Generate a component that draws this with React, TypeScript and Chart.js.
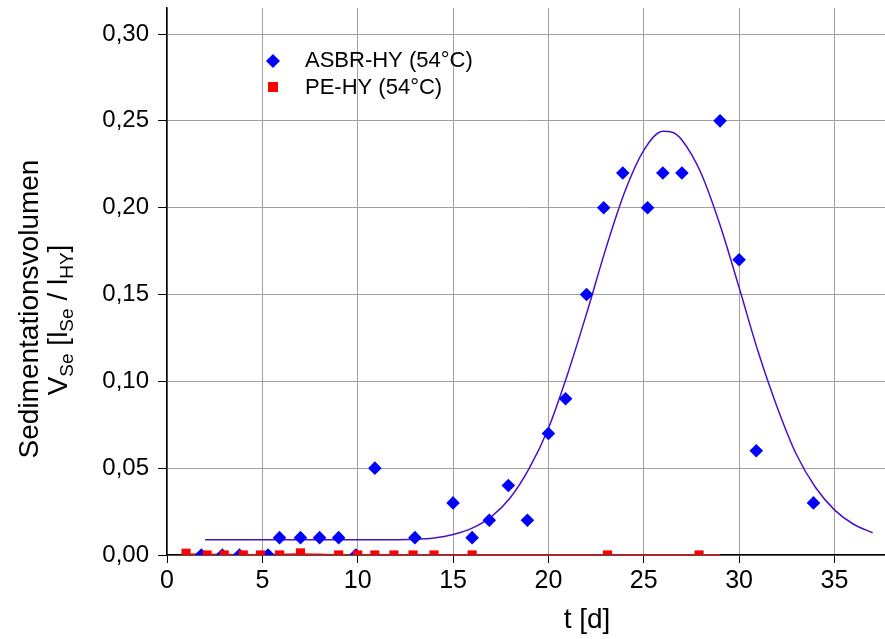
import React, { useEffect, useRef } from "react";
import { Chart, registerables } from "chart.js";

Chart.register(...registerables);

// ASBR-HY (54°C) measurements
const asbrT = [1.8, 2.9, 3.8, 5.3, 5.9, 7.0, 8.0, 9.0, 9.9, 10.9, 13.0, 15.0, 16.0, 16.9, 17.9, 18.9, 20.0, 20.9, 22.0, 22.9, 23.9, 25.2, 26.0, 27.0, 29.0, 30.0, 30.9, 33.9];
const asbrV = [0, 0, 0, 0, 0.01, 0.01, 0.01, 0.01, 0, 0.05, 0.01, 0.03, 0.01, 0.02, 0.04, 0.02, 0.07, 0.09, 0.15, 0.2, 0.22, 0.2, 0.22, 0.22, 0.25, 0.17, 0.06, 0.03];

// PE-HY (54°C) measurements
const peT = [1.0, 2.1, 3.0, 4.0, 4.9, 5.9, 7.0, 9.0, 10.0, 10.9, 11.9, 12.9, 14.0, 16.0, 23.1, 27.9];
const peV = [0.001, 0, 0, 0, 0, 0, 0.0012, 0, 0, 0, 0, 0, 0, 0, 0, 0];

// fitted curve for ASBR-HY
const asbrFitT = [2, 4, 6, 8, 10, 12, 13, 14, 15, 16, 17, 18, 19, 20, 21, 22, 23, 24, 25, 26, 26.5, 27, 28, 29, 30, 31, 32, 33, 34, 35, 36, 37];
const asbrFitV = [0.0088, 0.0088, 0.0088, 0.0088, 0.0088, 0.0088, 0.009, 0.0098, 0.0118, 0.0155, 0.022, 0.033, 0.05, 0.073, 0.104, 0.139, 0.176, 0.209, 0.233, 0.244, 0.2435, 0.239, 0.22, 0.19, 0.154, 0.117, 0.085, 0.058, 0.039, 0.026, 0.0177, 0.0128];

// fitted curve for PE-HY
const peFitT = [1, 3, 5, 7, 9, 12, 20, 29];
const peFitV = [0.0004, 0.0001, 0, 0.0005, 0, 0, 0, 0];

// axis ticks
const xTicks = [0, 5, 10, 15, 20, 25, 30, 35];
const yTicks = [0, 0.05, 0.1, 0.15, 0.2, 0.25, 0.3];

const FONT = "'Liberation Sans', Arial, Helvetica, sans-serif";
const FIT_BLUE = "#4a10c8";

const toXY = (xs: number[], ys: number[]) => xs.map((x, i) => ({ x, y: ys[i] }));

const annotations = {
  id: "annotations",
  afterDraw(chart: any) {
    const ctx = chart.ctx as CanvasRenderingContext2D;
    ctx.save();
    ctx.fillStyle = "#000";
    const big = `28px ${FONT}`;
    const small = `19px ${FONT}`;
    // x title
    ctx.font = big;
    ctx.textAlign = "center";
    ctx.textBaseline = "alphabetic";
    ctx.fillText("t [d]", 587, 628);

    // y title line 1
    ctx.save();
    ctx.translate(38, 309);
    ctx.rotate(-Math.PI / 2);
    ctx.font = big;
    ctx.textAlign = "center";
    ctx.fillText("Sedimentationsvolumen", 0, 0);
    ctx.restore();

    // y title line 2 with subscripts
    const segs: [string, boolean][] = [
      ["V", false],
      ["Se", true],
      [" [l", false],
      ["Se", true],
      [" / l", false],
      ["HY", true],
      ["]", false],
    ];
    let total = 0;
    for (const [s, sub] of segs) {
      ctx.font = sub ? small : big;
      total += ctx.measureText(s).width;
    }
    ctx.save();
    ctx.translate(67, 320);
    ctx.rotate(-Math.PI / 2);
    ctx.textAlign = "left";
    let cx = -total / 2;
    for (const [s, sub] of segs) {
      ctx.font = sub ? small : big;
      ctx.fillText(s, cx, sub ? 6 : 0);
      cx += ctx.measureText(s).width;
    }
    ctx.restore();

    // legend
    ctx.fillStyle = "#0000ff";
    ctx.beginPath();
    ctx.moveTo(273 - 7, 61);
    ctx.lineTo(273, 61 - 7);
    ctx.lineTo(273 + 7, 61);
    ctx.lineTo(273, 61 + 7);
    ctx.closePath();
    ctx.fill();
    ctx.fillStyle = "#ff0000";
    ctx.fillRect(268, 82, 10, 10);
    ctx.fillStyle = "#000";
    ctx.font = `22px ${FONT}`;
    ctx.textAlign = "left";
    ctx.textBaseline = "middle";
    ctx.fillText("ASBR-HY (54°C)", 305, 61);
    ctx.fillText("PE-HY (54°C)", 305, 88);
    ctx.restore();
  },
};

export default function App() {
  const ref = useRef<HTMLCanvasElement | null>(null);
  useEffect(() => {
    if (!ref.current) return;
    const chart = new Chart(ref.current, {
      type: "scatter",
      data: {
        datasets: [
          {
            label: "PE-HY (54°C)",
            data: toXY(peT, peV),
            pointStyle: "rect",
            pointRadius: 6.5,
            backgroundColor: "#ff0000",
            borderColor: "#ff0000",
            borderWidth: 0,
            showLine: false,
          },
          {
            label: "ASBR-HY (54°C)",
            data: toXY(asbrT, asbrV),
            pointStyle: "rectRot",
            pointRadius: 6.8,
            backgroundColor: "#0000ff",
            borderColor: "#0000ff",
            borderWidth: 0,
            showLine: false,
          },
          {
            label: "PE fit",
            data: toXY(peFitT, peFitV),
            showLine: true,
            pointRadius: 0,
            borderColor: "#ff0000",
            borderWidth: 2,
            cubicInterpolationMode: "monotone",
          },
          {
            label: "ASBR fit",
            data: toXY(asbrFitT, asbrFitV),
            showLine: true,
            pointRadius: 0,
            borderColor: FIT_BLUE,
            borderWidth: 1.5,
            cubicInterpolationMode: "monotone",
          },
        ],
      },
      options: {
        animation: false,
        responsive: false,
        devicePixelRatio: 1,
        layout: { autoPadding: false, padding: { top: 8, left: 0, right: 0, bottom: 0 } },
        plugins: { legend: { display: false }, tooltip: { enabled: false } },
        scales: {
          x: {
            type: "linear",
            min: 0,
            max: 37.65,
            afterFit: (s: any) => {
              s.height = 84;
              s.paddingLeft = 0;
              s.paddingRight = 0;
            },
            afterBuildTicks: (s: any) => {
              s.ticks = xTicks.map((v) => ({ value: v }));
            },
            ticks: {
              includeBounds: false,
              font: { family: FONT, size: 25 },
              color: "#000",
              padding: 3,
              maxRotation: 0,
              callback: (v: any) => String(v),
            },
            grid: { color: "#a0a0a0", lineWidth: 1, tickColor: "#000", tickLength: 8 },
            border: { color: "#000", width: 1.5 },
          },
          y: {
            type: "linear",
            min: 0,
            max: 0.315,
            afterFit: (s: any) => {
              s.width = 167;
              s.paddingTop = 0;
              s.paddingBottom = 0;
            },
            afterBuildTicks: (s: any) => {
              s.ticks = yTicks.map((v) => ({ value: v }));
            },
            ticks: {
              includeBounds: false,
              font: { family: FONT, size: 24 },
              color: "#000",
              padding: 9,
              callback: (v: any) => Number(v).toFixed(2).replace(".", ","),
            },
            grid: { color: "#a0a0a0", lineWidth: 1, tickColor: "#000", tickLength: 9 },
            border: { color: "#000", width: 1.5 },
          },
        },
      },
      plugins: [annotations],
    });
    return () => chart.destroy();
  }, []);
  return (
    <div style={{ position: "absolute", left: 0, top: 0, width: 885, height: 639 }}>
      <canvas ref={ref} width={885} height={639} style={{ width: 885, height: 639 }} />
    </div>
  );
}
